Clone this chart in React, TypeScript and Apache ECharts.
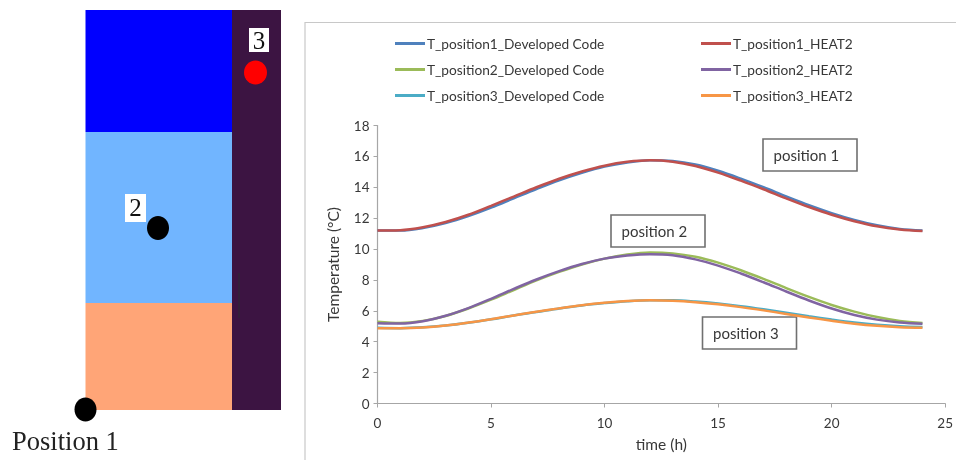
import React, { useEffect, useRef } from "react";
import * as echarts from "echarts";

const hours = [0,1,2,3,4,5,6,7,8,9,10,11,12,13,14,15,16,17,18,19,20,21,22,23,24];
const p1Dev = [11.2,11.2,11.36,11.68,12.13,12.68,13.28,13.88,14.45,14.94,15.34,15.6,15.75,15.7,15.47,15.07,14.56,14.0,13.41,12.84,12.33,11.89,11.54,11.3,11.2];
const p1Heat = [11.2,11.22,11.41,11.75,12.22,12.8,13.4,14.0,14.55,15.02,15.4,15.65,15.75,15.66,15.38,14.95,14.43,13.87,13.28,12.72,12.22,11.8,11.47,11.27,11.17];
const p2Dev = [5.3,5.22,5.35,5.67,6.15,6.72,7.35,7.97,8.52,9.0,9.38,9.65,9.78,9.72,9.5,9.12,8.63,8.07,7.47,6.9,6.38,5.95,5.6,5.35,5.22];
const p2Heat = [5.2,5.18,5.33,5.68,6.18,6.78,7.42,8.03,8.57,9.03,9.38,9.58,9.67,9.6,9.33,8.93,8.42,7.85,7.25,6.67,6.15,5.73,5.43,5.25,5.17];
const p3Dev = [4.9,4.88,4.93,5.05,5.23,5.45,5.7,5.92,6.15,6.35,6.5,6.62,6.68,6.68,6.6,6.47,6.3,6.1,5.88,5.65,5.44,5.25,5.1,5.0,4.95];
const p3Heat = [4.88,4.87,4.92,5.05,5.24,5.46,5.7,5.94,6.16,6.36,6.52,6.63,6.68,6.65,6.56,6.42,6.24,6.03,5.8,5.57,5.36,5.17,5.03,4.94,4.9];
const devNames = ["T_position1_Developed Code","T_position2_Developed Code","T_position3_Developed Code"];
const heatNames = ["T_position1_HEAT2","T_position2_HEAT2","T_position3_HEAT2"];

const FONT = "Lato";
const TEXT = "#383838";
const SERIF = "Liberation Serif";

const box = (x: number, y: number, label: string) => ({
  type: "group", z: 20, children: [
    { type: "rect", shape: { x, y, width: 94, height: 32 }, style: { fill: "#fff", stroke: "#707070", lineWidth: 1.6 } },
    { type: "text", x: x + 10.5, y: y + 16, style: { text: label, font: `15px ${FONT}`, fill: TEXT, textVerticalAlign: "middle" } },
  ],
});
const rect = (x: number, y: number, width: number, height: number, fill: string) => ({ type: "rect", shape: { x, y, width, height }, style: { fill } });
const line = (name: string, data: number[], color: string) => ({
  name, type: "line", data: data.map((v, i) => [hours[i], v]), smooth: 0.35, showSymbol: false,
  lineStyle: { color, width: 2.5 }, itemStyle: { color },
});
const legend = (left: number, data: string[]) => ({
  left, top: 36.5, orient: "vertical", data, icon: "rect", itemWidth: 30, itemHeight: 3, itemGap: 12, padding: 0,
  textStyle: { fontFamily: FONT, fontSize: 13.7, lineHeight: 14, color: TEXT, padding: [0, 0, 0, -3] },
});

export default function App() {
  const ref = useRef<HTMLDivElement>(null);
  useEffect(() => {
    const chart = echarts.init(ref.current!, undefined, { renderer: "svg" });
    const axisCommon = {
      axisLine: { onZero: false, lineStyle: { color: "#a6a6a6", width: 1.2 } },
      axisTick: { show: true, length: 4, lineStyle: { color: "#a6a6a6" } },
      splitLine: { show: false },
      nameTextStyle: { fontFamily: FONT, fontSize: 15.5, color: TEXT },
      axisLabel: { fontFamily: FONT, fontSize: 13.5, color: TEXT },
    };
    chart.setOption({
      animation: false,
      backgroundColor: "#fff",
      grid: { left: 377.5, top: 125.5, right: 10.5, bottom: 56.5, containLabel: false },
      xAxis: { ...axisCommon, type: "value", min: 0, max: 25, interval: 5, name: "time (h)", nameLocation: "middle", nameGap: 32,
        axisLabel: { ...axisCommon.axisLabel, margin: 12 } },
      yAxis: { ...axisCommon, type: "value", min: 0, max: 18, interval: 2, name: "Temperature (°C)", nameLocation: "middle", nameGap: 37,
        axisLabel: { ...axisCommon.axisLabel, margin: 8 } },
      legend: [legend(395, devNames), legend(701, heatNames)],
      series: [
        line(devNames[0], p1Dev, "#4f81bd"),
        line(heatNames[0], p1Heat, "#c0504d"),
        line(devNames[1], p2Dev, "#9bbb59"),
        line(heatNames[1], p2Heat, "#8064a2"),
        line(devNames[2], p3Dev, "#4bacc6"),
        line(heatNames[2], p3Heat, "#f79646"),
      ],
      graphic: [
        { type: "polyline", z: 1, shape: { points: [[305, 460], [305, 22.5], [956, 22.5]] }, style: { fill: "none", stroke: "#c8c8c8", lineWidth: 1.2 } },
        box(763, 139, "position 1"),
        box(611, 215, "position 2"),
        box(702.5, 317, "position 3"),
        rect(85.5, 10, 147, 122, "#0000ff"),
        rect(85.5, 132, 147, 171, "#71b5ff"),
        rect(85.5, 303, 147, 107, "#ffa577"),
        rect(232, 10, 49, 400, "#3c1442"),
        { type: "line", shape: { x1: 239, y1: 273, x2: 239, y2: 318 }, style: { stroke: "#2a2a33", lineWidth: 1 } },
        rect(249, 28, 20, 24, "#fff"),
        rect(125, 194, 21, 28, "#fff"),
        { type: "text", x: 259, y: 40, style: { text: "3", font: `25px ${SERIF}`, fill: "#111", textAlign: "center", textVerticalAlign: "middle" } },
        { type: "text", x: 135.5, y: 207, style: { text: "2", font: `25px ${SERIF}`, fill: "#111", textAlign: "center", textVerticalAlign: "middle" } },
        { type: "ellipse", shape: { cx: 255.5, cy: 72.5, rx: 11.5, ry: 12 }, style: { fill: "#ff0000" } },
        { type: "ellipse", shape: { cx: 158, cy: 228, rx: 11, ry: 12 }, style: { fill: "#000" } },
        { type: "ellipse", shape: { cx: 85.5, cy: 409.5, rx: 11, ry: 12 }, style: { fill: "#000" } },
        { type: "text", x: 12, y: 441, style: { text: "Position 1", font: `26.5px ${SERIF}`, fill: "#222", textVerticalAlign: "middle" } },
      ],
    });
    return () => chart.dispose();
  }, []);
  return <div ref={ref} style={{ position: "absolute", left: 0, top: 0, width: 956, height: 460, filter: "blur(0.4px)" }} />;
}
